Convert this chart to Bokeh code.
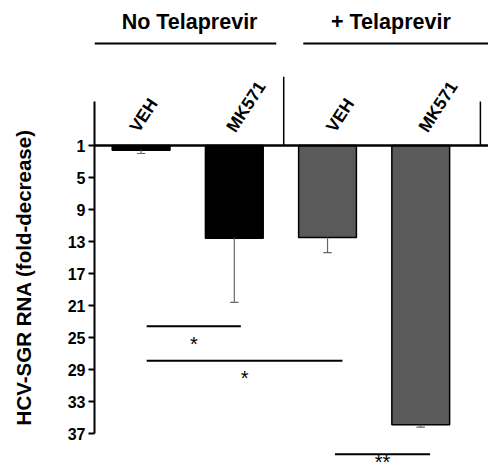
from bokeh.plotting import figure
from bokeh.models import Range1d, FixedTicker, ColumnDataSource
from bokeh.layouts import column
from bokeh.core.properties import value
from bokeh.embed import file_html
from bokeh.resources import INLINE

# ---- data ----
groups = ["No Telaprevir", "+ Telaprevir"]
treatments = ["VEH", "MK571", "VEH", "MK571"]
fold_decrease = [1.6, 12.6, 12.5, 35.9]
err_upper = [2.0, 20.6, 14.4, 36.2]
bar_colors = ["#000000", "#000000", "#5a5a5a", "#5a5a5a"]
y_ticks = [1, 5, 9, 13, 17, 21, 25, 29, 33, 37]
sig_labels = ["*", "*", "**"]
sig_from = [0.56, 0.56, 2.58]
sig_to = [1.57, 2.66, 3.60]
sig_level = [23.6, 27.9, 39.6]

FONT = "Liberation Sans"
xpos = [i + 0.5 for i in range(len(treatments))]
xr = Range1d(0, 4.227)

# ---- header strip ----
h = figure(width=488, height=74, output_backend="svg", toolbar_location=None,
           x_range=xr, y_range=Range1d(-7.875, -17.125),
           x_axis_location=None, y_axis_location=None,
           min_border_left=94, min_border_right=0,
           min_border_top=0, min_border_bottom=0)
h.outline_line_color = None
h.xgrid.visible = False
h.ygrid.visible = False
h.segment(x0=[0.0, 2.24], y0=[-11.75, -11.75], x1=[1.95, 4.227], y1=[-11.75, -11.75],
          line_color="black", line_width=2)
h.text(x=[1.02, 3.18], y=[-14.4, -14.4], text=groups, text_font=value(FONT),
       text_font_style="bold", text_font_size="21.5px", text_align="center",
       text_baseline="middle", text_color="black")

# ---- main plot ----
p = figure(width=488, height=400, output_backend="svg", toolbar_location=None,
           x_range=xr, y_range=Range1d(42.125, -7.875),
           x_axis_location=None, min_border_left=94, min_border_right=0,
           min_border_top=0, min_border_bottom=0)
p.outline_line_color = None
p.xgrid.visible = False
p.ygrid.visible = False

ax = p.yaxis[0]
ax.ticker = FixedTicker(ticks=y_ticks)
ax.bounds = (-4.5, 37)
ax.axis_line_width = 2
ax.major_tick_line_width = 2
ax.major_tick_out = 6
ax.major_tick_in = 0
ax.minor_tick_out = 0
ax.minor_tick_in = 0
ax.major_label_text_font = FONT
ax.major_label_text_font_style = "bold"
ax.major_label_text_font_size = "16px"
ax.major_label_text_color = "black"
ax.major_label_standoff = 3
ax.axis_label = "HCV-SGR RNA  (fold-decrease)"
ax.axis_label_text_font = FONT
ax.axis_label_text_font_style = "bold"
ax.axis_label_text_font_size = "20.5px"
ax.axis_label_text_color = "black"
ax.axis_label_standoff = 30

# bars
src = ColumnDataSource(dict(x=xpos, top=[1] * 4, bottom=fold_decrease,
                            color=bar_colors, up=err_upper))
p.vbar(x="x", width=0.62, top="top", bottom="bottom", fill_color="color",
       line_color="black", line_width=1.5, source=src)
# error bars
p.segment(x0="x", y0="bottom", x1="x", y1="up", line_color="#666666",
          line_width=1.2, source=src)
p.segment(x0=[x - 0.045 for x in xpos], y0=err_upper,
          x1=[x + 0.045 for x in xpos], y1=err_upper,
          line_color="#666666", line_width=1.2)

# baseline and dividers
p.segment(x0=[0], y0=[1], x1=[4.227], y1=[1], line_color="black", line_width=2.5)
p.segment(x0=[2.03, 4.14], y0=[-7.6, -4.5], x1=[2.03, 4.14], y1=[1, 1],
          line_color="black", line_width=1.5)

# treatment labels
label_dx = [-0.08, -0.04, 0.03, 0.02]
p.text(x=[x + d for x, d in zip(xpos, label_dx)], y=[-0.9] * 4, text=treatments,
       text_font=value(FONT), text_font_style="bold", text_font_size="17.5px",
       text_align="left", text_baseline="alphabetic", angle=57, angle_units="deg",
       text_color="black")

# significance
p.segment(x0=sig_from, y0=sig_level, x1=sig_to, y1=sig_level,
          line_color="black", line_width=2)
p.text(x=[(a + b) / 2 for a, b in zip(sig_from, sig_to)],
       y=[l + o for l, o in zip(sig_level, [2.2, 2.2, 0.95])], text=sig_labels,
       text_font=value(FONT), text_font_size="20px", text_align="center",
       text_baseline="middle", text_color="black")

open("out.html", "w").write(file_html(column(h, p), INLINE))
